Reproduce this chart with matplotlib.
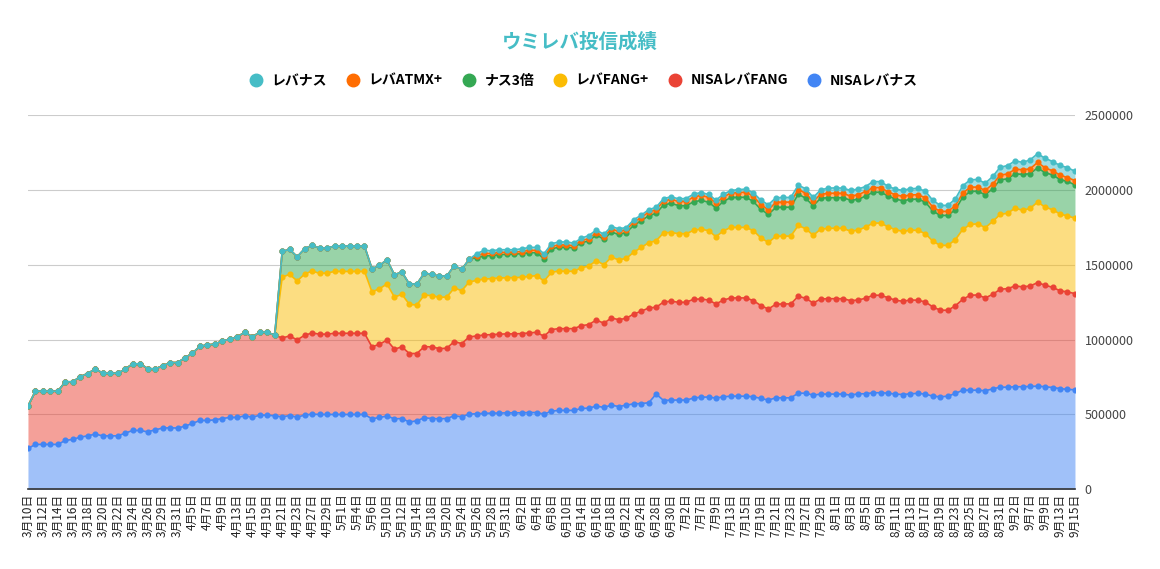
import numpy as np
import matplotlib.pyplot as plt
from matplotlib.lines import Line2D
from matplotlib.ticker import StrMethodFormatter

plt.rcParams['font.family'] = ['Noto Sans CJK JP', 'DejaVu Sans']

# 日付（ラベルは2つおきに表示）
dates = [
    '3月10日', '3月11日', '3月12日', '3月13日', '3月14日', '3月15日', '3月16日', '3月17日', '3月18日', '3月19日',
    '3月20日', '3月21日', '3月22日', '3月23日', '3月24日', '3月25日', '3月26日', '3月27日', '3月29日', '3月30日',
    '3月31日', '4月1日', '4月5日', '4月6日', '4月7日', '4月8日', '4月9日', '4月12日', '4月13日', '4月14日',
    '4月15日', '4月16日', '4月19日', '4月20日', '4月21日', '4月22日', '4月23日', '4月26日', '4月27日', '4月28日',
    '4月29日', '4月30日', '5月1日', '5月3日', '5月4日', '5月5日', '5月6日', '5月7日', '5月10日', '5月11日',
    '5月12日', '5月13日', '5月14日', '5月17日', '5月18日', '5月19日', '5月20日', '5月21日', '5月24日', '5月25日',
    '5月26日', '5月27日', '5月28日', '5月29日', '5月31日', '6月1日', '6月2日', '6月3日', '6月4日', '6月7日',
    '6月8日', '6月9日', '6月10日', '6月11日', '6月14日', '6月15日', '6月16日', '6月17日', '6月18日', '6月21日',
    '6月22日', '6月23日', '6月24日', '6月25日', '6月28日', '6月29日', '6月30日', '7月1日', '7月2日', '7月6日',
    '7月7日', '7月8日', '7月9日', '7月12日', '7月13日', '7月14日', '7月15日', '7月16日', '7月19日', '7月20日',
    '7月21日', '7月22日', '7月23日', '7月26日', '7月27日', '7月28日', '7月29日', '7月30日', '8月1日', '8月2日',
    '8月3日', '8月4日', '8月5日', '8月6日', '8月9日', '8月10日', '8月11日', '8月12日', '8月13日', '8月16日',
    '8月17日', '8月18日', '8月19日', '8月20日', '8月23日', '8月24日', '8月25日', '8月26日', '8月27日', '8月30日',
    '8月31日', '9月1日', '9月2日', '9月3日', '9月7日', '9月8日', '9月9日', '9月10日', '9月13日', '9月14日',
    '9月15日',
]

nisa_levenas = [
    273000, 300000, 300000, 300000, 300000, 327000, 333000, 349000, 357000, 369000,
    357000, 357000, 357000, 375000, 393000, 393000, 384000, 397000, 409000, 411000,
    409000, 422000, 440000, 460000, 460000, 464000, 473000, 480000, 480000, 491000,
    482000, 495000, 495000, 491000, 484000, 493000, 482000, 496000, 502000, 500000,
    500000, 500000, 500000, 500000, 500000, 500000, 471000, 480000, 489000, 471000,
    473000, 449000, 458000, 478000, 473000, 471000, 473000, 491000, 485000, 502000,
    505000, 507000, 509000, 509000, 511000, 511000, 511000, 513000, 513000, 502000,
    522000, 527000, 527000, 527000, 540000, 542000, 556000, 547000, 562000, 553000,
    562000, 571000, 573000, 578000, 636000, 593000, 596000, 596000, 596000, 609000,
    616000, 616000, 609000, 618000, 622000, 622000, 622000, 618000, 607000, 596000,
    611000, 611000, 611000, 642000, 642000, 629000, 636000, 636000, 636000, 636000,
    629000, 638000, 638000, 645000, 645000, 642000, 636000, 633000, 638000, 641000,
    636000, 622000, 618000, 622000, 640000, 662000, 662000, 662000, 658000, 671000,
    682000, 682000, 685000, 685000, 687000, 689000, 685000, 680000, 673000, 667000,
    665000,
]

nisa_levafang = [
    282000, 355000, 355000, 355000, 355000, 391000, 385000, 404000, 416000, 435000,
    418000, 418000, 418000, 427000, 445000, 445000, 422000, 407000, 415000, 435000,
    437000, 456000, 469000, 495000, 504000, 505000, 518000, 522000, 538000, 558000,
    536000, 554000, 554000, 538000, 527000, 531000, 516000, 533000, 542000, 536000,
    536000, 542000, 542000, 542000, 542000, 542000, 480000, 489000, 507000, 465000,
    478000, 458000, 449000, 475000, 478000, 469000, 469000, 496000, 488000, 516000,
    519000, 524000, 524000, 527000, 527000, 527000, 529000, 531000, 536000, 520000,
    545000, 546000, 546000, 546000, 553000, 558000, 575000, 562000, 582000, 580000,
    580000, 600000, 616000, 633000, 580000, 658000, 660000, 653000, 653000, 660000,
    655000, 648000, 629000, 646000, 656000, 656000, 656000, 642000, 620000, 608000,
    625000, 627000, 627000, 647000, 634000, 615000, 635000, 637000, 637000, 637000,
    631000, 626000, 638000, 651000, 651000, 638000, 626000, 623000, 626000, 622000,
    615000, 596000, 578000, 574000, 585000, 607000, 634000, 636000, 620000, 631000,
    654000, 658000, 673000, 667000, 671000, 691000, 678000, 669000, 653000, 651000,
    642000,
]

levafang = [
    0, 0, 0, 0, 0, 0, 0, 0, 0, 0,
    0, 0, 0, 0, 0, 0, 0, 0, 0, 0,
    0, 0, 0, 0, 0, 0, 0, 0, 0, 0,
    0, 0, 0, 0, 407000, 411000, 393000, 409000, 414000, 406000,
    408000, 413000, 413000, 413000, 413000, 413000, 367000, 371000, 375000, 348000,
    351000, 328000, 324000, 345000, 342000, 342000, 342000, 357000, 354000, 366000,
    372000, 373000, 374000, 375000, 375000, 375000, 376000, 378000, 378000, 369000,
    382000, 385000, 383000, 383000, 387000, 391000, 396000, 391000, 405000, 400000,
    400000, 413000, 426000, 436000, 444000, 462000, 459000, 458000, 458000, 460000,
    467000, 463000, 449000, 463000, 471000, 471000, 471000, 467000, 452000, 445000,
    453000, 453000, 453000, 473000, 464000, 452000, 467000, 469000, 471000, 469000,
    464000, 467000, 475000, 482000, 482000, 473000, 471000, 466000, 467000, 466000,
    456000, 438000, 433000, 433000, 442000, 467000, 473000, 475000, 469000, 487000,
    500000, 504000, 520000, 511000, 518000, 538000, 522000, 518000, 513000, 507000,
    504000,
]

nasu3 = [
    0, 0, 0, 0, 0, 0, 0, 0, 0, 0,
    0, 0, 0, 0, 0, 0, 0, 0, 0, 0,
    0, 0, 0, 0, 0, 0, 0, 0, 0, 0,
    0, 0, 0, 0, 171000, 167000, 162000, 169000, 171000, 169000,
    167000, 169000, 169000, 169000, 169000, 169000, 155000, 155000, 162000, 149000,
    149000, 136000, 140000, 146000, 142000, 142000, 140000, 149000, 142000, 152000,
    151000, 154000, 153000, 156000, 156000, 158000, 157000, 158000, 153000, 149000,
    158000, 158000, 160000, 157000, 167000, 167000, 173000, 169000, 169000, 169000,
    173000, 178000, 178000, 180000, 182000, 187000, 194000, 188000, 186000, 191000,
    191000, 191000, 191000, 195000, 200000, 200000, 202000, 195000, 190000, 187000,
    193000, 193000, 193000, 209000, 204000, 197000, 206000, 205000, 203000, 205000,
    207000, 205000, 207000, 206000, 206000, 207000, 205000, 205000, 205000, 209000,
    211000, 202000, 200000, 200000, 200000, 215000, 220000, 218000, 220000, 218000,
    231000, 229000, 229000, 240000, 231000, 229000, 229000, 233000, 229000, 231000,
    222000,
]

leva_atmx = [
    0, 0, 0, 0, 0, 0, 0, 0, 0, 0,
    0, 0, 0, 0, 0, 0, 0, 0, 0, 0,
    0, 0, 0, 0, 0, 0, 0, 0, 0, 0,
    0, 0, 0, 0, 0, 0, 0, 0, 0, 0,
    0, 0, 0, 0, 0, 0, 0, 0, 0, 0,
    0, 0, 0, 0, 0, 0, 0, 0, 0, 0,
    12000, 17000, 15000, 15000, 14000, 13000, 15000, 16000, 16000, 15000,
    15000, 16000, 16000, 14000, 14000, 16000, 15000, 15000, 20000, 21000,
    18000, 22000, 22000, 24000, 25000, 26000, 27000, 28000, 30000, 32000,
    34000, 32000, 34000, 31000, 29000, 33000, 33000, 35000, 32000, 31000,
    34000, 34000, 34000, 31000, 33000, 29000, 27000, 29000, 31000, 29000,
    27000, 31000, 31000, 31000, 31000, 26000, 29000, 29000, 30000, 29000,
    29000, 26000, 27000, 27000, 27000, 27000, 29000, 27000, 29000, 31000,
    31000, 33000, 31000, 31000, 33000, 36000, 33000, 27000, 31000, 25000,
    29000,
]

levenas = [
    0, 0, 0, 0, 0, 0, 0, 0, 0, 0,
    0, 0, 0, 0, 0, 0, 0, 0, 0, 0,
    0, 0, 0, 0, 0, 0, 0, 0, 0, 0,
    0, 0, 0, 0, 0, 0, 0, 0, 0, 0,
    0, 0, 0, 0, 0, 0, 0, 0, 0, 0,
    0, 0, 0, 0, 0, 0, 0, 0, 0, 0,
    15000, 21000, 18000, 18000, 17000, 16000, 18000, 19000, 20000, 18000,
    18000, 20000, 20000, 17000, 17000, 20000, 18000, 18000, 17000, 17000,
    15000, 16000, 16000, 16000, 17000, 16000, 17000, 17000, 19000, 19000,
    19000, 19000, 19000, 18000, 17000, 20000, 20000, 23000, 30000, 33000,
    31000, 31000, 31000, 29000, 30000, 27000, 29000, 35000, 35000, 35000,
    38000, 38000, 33000, 40000, 40000, 38000, 37000, 40000, 42000, 42000,
    44000, 45000, 40000, 40000, 45000, 49000, 49000, 51000, 48000, 51000,
    53000, 56000, 56000, 49000, 60000, 58000, 64000, 62000, 64000, 67000,
    62000,
]

# 積み上げ順（下から）
series = [
    (nisa_levenas, '#4285F4', 'NISAレバナス'),
    (nisa_levafang, '#EA4335', 'NISAレバFANG'),
    (levafang, '#FBBC04', 'レバFANG+'),
    (nasu3, '#34A853', 'ナス3倍'),
    (leva_atmx, '#FF6D01', 'レバATMX+'),
    (levenas, '#46BDC6', 'レバナス'),
]

fig = plt.figure(figsize=(11.6, 5.69), dpi=100)
ax = fig.add_axes([0.0241, 0.140, 0.9026, 0.658])

x = np.arange(len(dates))
base = np.zeros(len(x))
for vals, col, name in series:
    top = base + np.array(vals)
    ax.fill_between(x, base, top, color=col, alpha=0.5, linewidth=0, zorder=1)
    ax.plot(x, top, color=col, lw=1.2, marker='o', ms=3.4, zorder=3)
    base = top

ax.set_xlim(0, len(x) - 1)
ax.set_ylim(0, 2500000)
ax.set_yticks(range(0, 2500001, 500000))
ax.yaxis.set_major_formatter(StrMethodFormatter('{x:.0f}'))
ax.yaxis.tick_right()
ax.tick_params(axis='y', length=0, pad=7, labelsize=9, labelcolor='#444444')
ax.set_xticks(x[::2])
ax.set_xticklabels(dates[::2], rotation=90, fontsize=8.5, color='#222222')
ax.tick_params(axis='x', length=0, pad=3)
ax.grid(axis='y', color='#cccccc', lw=0.8)
ax.set_axisbelow(True)
for s in ['top', 'left', 'right']:
    ax.spines[s].set_visible(False)
ax.spines['bottom'].set_color('#333333')
ax.spines['bottom'].set_linewidth(1.2)

fig.text(0.5, 0.926, 'ウミレバ投信成績', ha='center', va='center',
         fontsize=14, fontweight='bold', color='#46BDC6')

handles = [Line2D([], [], marker='o', linestyle='', color=c, markersize=9, label=n)
           for _, c, n in reversed(series)]
fig.legend(handles=handles, loc='center', bbox_to_anchor=(0.5, 0.858), ncol=6,
           frameon=False, prop={'weight': 'bold', 'size': 10},
           handletextpad=0.1, columnspacing=0.9)

fig.savefig('out.png', dpi=100)
